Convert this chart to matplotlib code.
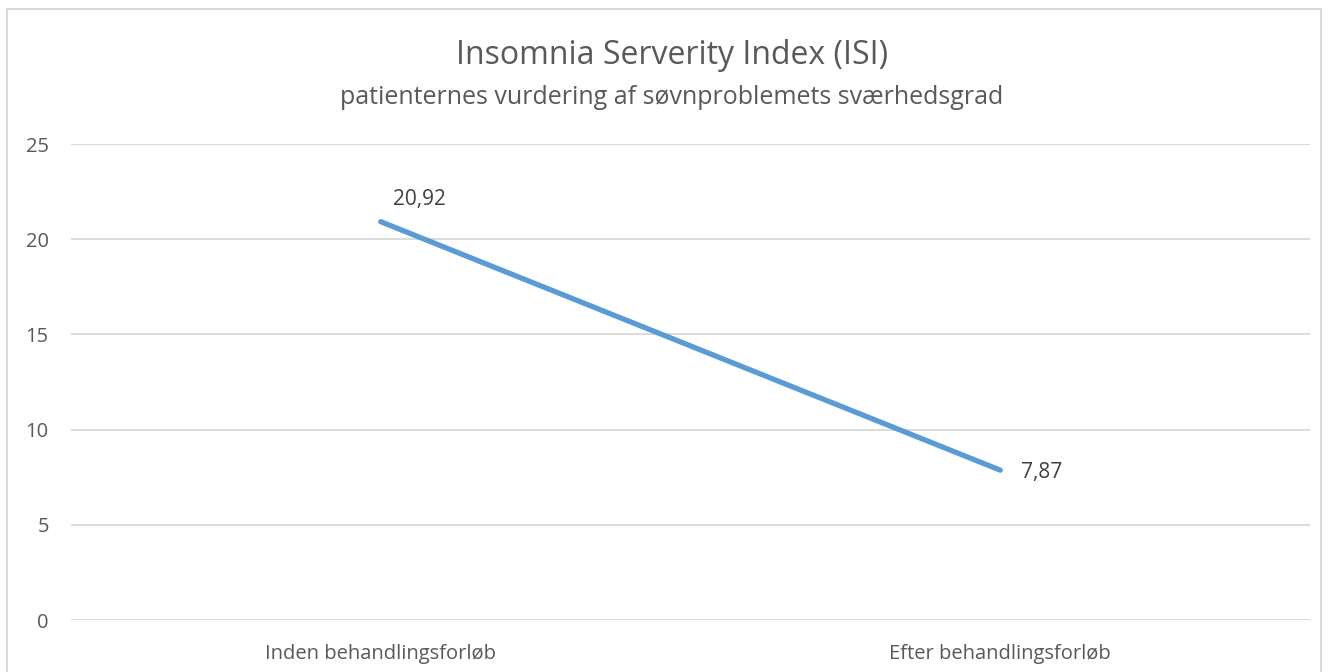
import matplotlib.pyplot as plt
from matplotlib.patches import Rectangle

plt.rcParams['font.family'] = ['Open Sans', 'DejaVu Sans']

categories = ['Inden behandlingsforløb', 'Efter behandlingsforløb']
values = [20.92, 7.87]
value_labels = ['20,92', '7,87']
y_ticks = [0, 5, 10, 15, 20, 25]

text_color = '#595959'
grid_color = '#D9D9D9'
line_color = '#5B9BD5'

fig = plt.figure(figsize=(13.28, 6.72), dpi=100)
ax = fig.add_axes([71 / 1328, 1 - 620 / 672, (1310 - 71) / 1328, (620 - 144) / 672])

x = list(range(len(categories)))
ax.plot(x, values, color=line_color, linewidth=3.8, solid_capstyle='round', zorder=3)
offsets = [(12, 22), (21, -2)]
for xi, v, lab, off in zip(x, values, value_labels, offsets):
    ax.annotate(lab, (xi, v), xytext=off, textcoords='offset pixels',
                ha='left', va='center', fontsize=15, color='#404040')

ax.set_xlim(-0.5, 1.5)
ax.set_ylim(0, 25)
ax.set_yticks(y_ticks)
ax.set_xticks(x)
ax.set_xticklabels(categories)
ax.yaxis.grid(True, color=grid_color, linewidth=1.3)
ax.set_axisbelow(True)
for s in ax.spines.values():
    s.set_visible(False)
ax.tick_params(axis='both', length=0, labelsize=14.5, labelcolor=text_color)
ax.tick_params(axis='y', pad=16)
ax.tick_params(axis='x', pad=17)

fig.text(672 / 1328, 1 - 55 / 672, 'Insomnia Serverity Index (ISI)', ha='center', va='center',
         fontsize=23, color=text_color)
fig.text(672 / 1328, 1 - 97 / 672, 'patienternes vurdering af søvnproblemets sværhedsgrad',
         ha='center', va='center', fontsize=18, color=text_color)

fig.patches.append(Rectangle((7 / 1328, -0.01), 1 - 14 / 1328, 1.01 - 9 / 672, transform=fig.transFigure,
                             fill=False, edgecolor=grid_color, linewidth=1.5))

fig.savefig('out.png', dpi=100, facecolor='white')
